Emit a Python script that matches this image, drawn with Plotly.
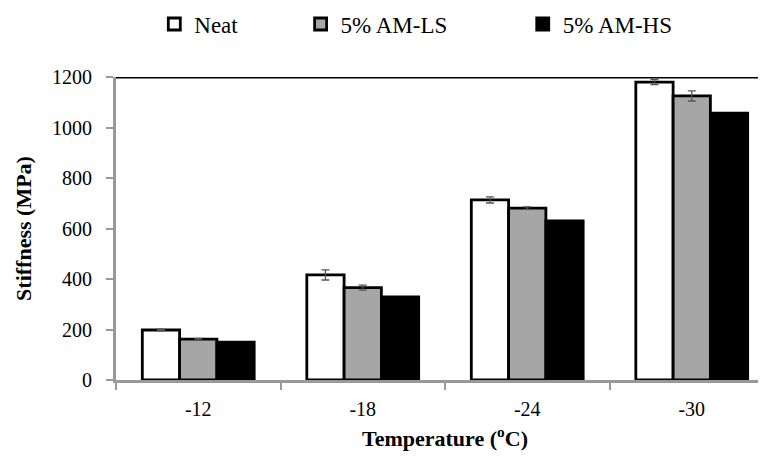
import plotly.graph_objects as go

categories = ["-12", "-18", "-24", "-30"]
neat = [198, 416, 713, 1180]
am_ls = [162, 366, 681, 1125]
am_hs = [150, 329, 630, 1057]
neat_err = [3, 20, 12, 10]
am_ls_err = [3, 10, 5, 20]
series_names = ["Neat", "5% AM-LS", "5% AM-HS"]
y_ticks = [0, 200, 400, 600, 800, 1000, 1200]

font_family = "Liberation Serif"

fig = go.Figure()
fig.add_trace(go.Bar(
    x=categories, y=neat, name=series_names[0], legend="legend",
    marker=dict(color="white", line=dict(color="black", width=2.8)),
    error_y=dict(type="data", array=neat_err, color="#555", thickness=1.3, width=4),
))
fig.add_trace(go.Bar(
    x=categories, y=am_ls, name=series_names[1], legend="legend2",
    marker=dict(color="#a6a6a6", line=dict(color="black", width=2.8)),
    error_y=dict(type="data", array=am_ls_err, color="#555", thickness=1.3, width=4),
))
fig.add_trace(go.Bar(
    x=categories, y=am_hs, name=series_names[2], legend="legend3",
    marker=dict(color="black", line=dict(color="black", width=2.8)),
))

def leg(x):
    return dict(orientation="h", x=x, y=0.965, xref="container", yref="container",
                yanchor="middle", xanchor="left", font=dict(size=23, family=font_family, color="black"),
                itemwidth=30, bgcolor="rgba(0,0,0,0)")

fig.update_layout(
    width=766, height=458,
    margin=dict(l=108, r=0, t=69, b=86, autoexpand=False),
    plot_bgcolor="white", paper_bgcolor="white",
    barmode="group", bargap=0.32, bargroupgap=0,
    font=dict(family=font_family, color="black", size=20),
    legend=leg(0.191), legend2=leg(0.382), legend3=leg(0.672),
    showlegend=True,
)
fig.update_xaxes(
    type="category", range=[-0.5, 3.5], automargin=False,
    showline=True, linecolor="#999", linewidth=3,
    ticks="outside", tickson="boundaries", tickcolor="#999", ticklen=7, tickwidth=1.5,
    ticklabelstandoff=9,
    tickfont=dict(size=20, family=font_family, color="black"),
    title=dict(text="<b>Temperature (<sup>o</sup>C)</b>", font=dict(size=22, family=font_family), standoff=12),
    showgrid=False,
)
fig.update_yaxes(
    range=[0, 1200], tickvals=y_ticks, automargin=False,
    showline=True, linecolor="#999", linewidth=3,
    ticks="outside", tickcolor="#999", ticklen=7, tickwidth=1.5,
    ticklabelstandoff=10,
    tickfont=dict(size=20, family=font_family, color="black"),
    title=dict(text="<b>Stiffness (MPa)</b>", font=dict(size=22, family=font_family), standoff=15),
    showgrid=False, zeroline=False,
)
fig.add_shape(type="line", xref="paper", yref="y", x0=0, x1=1, y0=1200, y1=1200,
              line=dict(color="black", width=3))

fig.write_html("out.html")
